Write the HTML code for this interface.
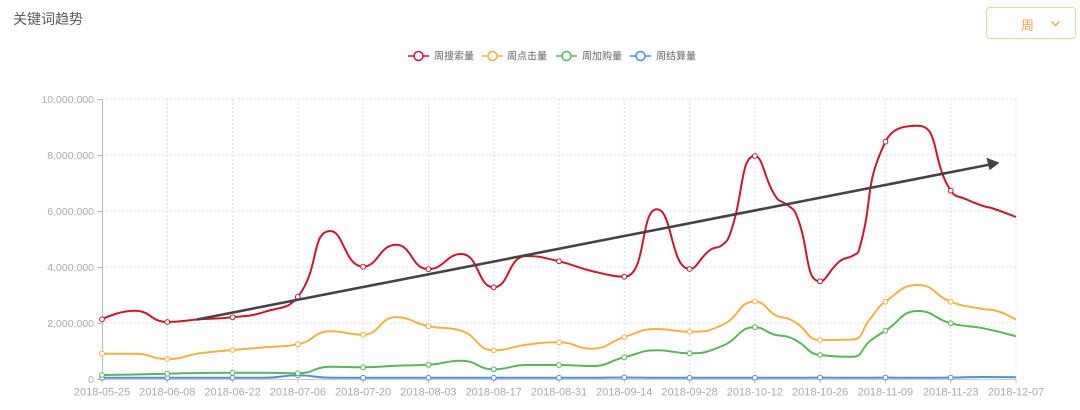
<!DOCTYPE html>
<html><head><meta charset="utf-8">
<style>
html,body{margin:0;padding:0;background:#fff;}
body{width:1080px;height:410px;position:relative;overflow:hidden;font-family:"Liberation Sans","Noto Sans CJK SC",sans-serif;}
.title{position:absolute;left:13px;top:9px;font-size:14px;color:#5a5a5a;}
.dd{position:absolute;left:986px;top:7px;width:90px;height:32px;border:1px solid #f5cf9c;border-radius:4px;box-sizing:border-box;}
.dd span{position:absolute;left:34px;top:7px;font-size:13px;color:#f0a24a;}
svg{position:absolute;left:0;top:0;}
</style></head><body>
<div class="title">关键词趋势</div>
<div class="dd"><span>周</span>
<svg width="90" height="32" style="left:0;top:0"><polyline points="64.5,13.5 68.5,17.5 72.5,13.5" fill="none" stroke="#f0a24a" stroke-width="1.3"/></svg>
</div>
<svg id="c" width="1080" height="410" xmlns="http://www.w3.org/2000/svg" style="left:0;top:0;position:absolute;">
<g id="grid"></g>
<g id="series"></g>
<g font-family="Liberation Sans, Noto Sans CJK SC, sans-serif" font-size="10" fill="#666">
 <line x1="408" y1="56" x2="429" y2="56" stroke="#d0152b" stroke-width="1.5"/><circle cx="418.5" cy="56" r="4.5" fill="#fff" stroke="#d0152b" stroke-width="1.5"/>
 <text x="434" y="59.5">周搜索量</text>
 <line x1="482" y1="56" x2="503" y2="56" stroke="#f2b23f" stroke-width="1.5"/><circle cx="492.5" cy="56" r="4.5" fill="#fff" stroke="#f2b23f" stroke-width="1.5"/>
 <text x="507" y="59.5">周点击量</text>
 <line x1="556" y1="56" x2="577" y2="56" stroke="#5bb55b" stroke-width="1.5"/><circle cx="566.5" cy="56" r="4.5" fill="#fff" stroke="#5bb55b" stroke-width="1.5"/>
 <text x="582" y="59.5">周加购量</text>
 <line x1="630" y1="56" x2="651" y2="56" stroke="#4a8fe0" stroke-width="1.5"/><circle cx="640.5" cy="56" r="4.5" fill="#fff" stroke="#4a8fe0" stroke-width="1.5"/>
 <text x="656" y="59.5">周结算量</text>
</g>
<g id="arrow">
 <line x1="197" y1="319.5" x2="990" y2="164.5" stroke="#444" stroke-width="2.6"/>
 <polygon points="999.5,162.7 986.5,157.8 989.5,170.2" fill="#444"/>
</g>
</svg>
<script>
(function(){
var NS="http://www.w3.org/2000/svg";
var grid=document.getElementById('grid'),ser=document.getElementById('series');
function el(t,a,p){var e=document.createElementNS(NS,t);for(var k in a)e.setAttribute(k,a[k]);(p||grid).appendChild(e);return e;}
var x0=102,x1=1016,y0=379,ytop=99,dx=(x1-x0)/28;
var ylabels=["0","2,000,000","4,000,000","6,000,000","8,000,000","10,000,000"];
for(var k=0;k<=5;k++){var y=y0-k*56;
 if(k>0)el('line',{x1:x0,y1:y,x2:x1,y2:y,stroke:'#e0e0e0','stroke-width':1,'stroke-dasharray':'2,2'});
 el('line',{x1:x0-5,y1:y+0.5,x2:x0,y2:y+0.5,stroke:'#bbb','stroke-width':1});
 var t=el('text',{x:x0-8,y:y+4,'text-anchor':'end','font-size':'10.5','fill':'#aaa','font-family':'Liberation Sans, sans-serif'});t.textContent=ylabels[k];}
var dates=["2018-05-25","2018-06-08","2018-06-22","2018-07-06","2018-07-20","2018-08-03","2018-08-17","2018-08-31","2018-09-14","2018-09-28","2018-10-12","2018-10-26","2018-11-09","2018-11-23","2018-12-07"];
for(var j=0;j<15;j++){var x=x0+j*2*dx;
 if(j>0)el('line',{x1:x,y1:ytop,x2:x,y2:y0,stroke:'#e0e0e0','stroke-width':1,'stroke-dasharray':'2,2'});
 el('line',{x1:x,y1:y0,x2:x,y2:y0+4,stroke:'#bbb','stroke-width':1});
 var t=el('text',{x:x,y:395.5,'text-anchor':'middle','font-size':'11','fill':'#aaa','font-family':'Liberation Sans, sans-serif'});t.textContent=dates[j];}
el('line',{x1:x0+0.5,y1:ytop,x2:x0+0.5,y2:y0,stroke:'#bbb','stroke-width':1});
el('line',{x1:x0,y1:y0+0.5,x2:x1,y2:y0+0.5,stroke:'#ccc','stroke-width':1});
var data={
 red:[319.3,310.7,322,319.3,317.3,311.7,296.7,231,266.7,244.7,269.2,254,287.3,256,261.3,271,276.7,209.3,269,245,156,205,281.3,255.7,141.7,125.7,190.7,206,217],
 yel:[353.7,353.7,359,353.3,350,347.3,344.3,331.3,334.7,317.3,326.2,330.7,350.3,344.7,342.3,348.7,337,329,331.7,325,301.5,318.3,340,339.5,301.7,285,301.7,309,319.7],
 grn:[375,374.5,373.7,373,372.7,372.7,373.3,366.7,367.3,365.7,364.8,360.7,369.3,365,365,366,357.3,350.3,353.3,346,327.2,336.7,355,356.7,330.7,311,323.3,328.3,336.3],
 blu:[377.8,377.8,377.8,377.8,377.8,377.8,375.3,377.8,377.8,377.8,377.8,377.8,377.8,377.8,377.8,377.8,377.5,377.8,377.8,377.8,377.8,377.8,377.6,377.8,377.6,377.8,377.6,377,377.2]
};
var extra={
 red:[[710,250],[730,234],[776,197],[796,214],[840,261],[859,250],[966.7,199.5],[993,208.5]],
 yel:[[777,316],[797,323.5],[870,319],[993,310]],
 grn:[[774,334.5],[797,341],[870,341]],
 blu:[]
};
var cols={red:'#d0152b',yel:'#f2b23f',grn:'#5bb55b',blu:'#4a8fe0'};
function smoothPath(P,smooth){
 var d='M'+P[0][0].toFixed(2)+','+P[0][1].toFixed(2);
 var cpx0=P[0][0],cpy0=P[0][1];
 for(var k=1;k<P.length;k++){
  var x=P[k][0],y=P[k][1],prevX=P[k-1][0],prevY=P[k-1][1];
  var cpx1,cpy1,nx0,ny0;
  if(k===P.length-1){cpx1=x;cpy1=y;nx0=x;ny0=y;}
  else{
   var nextX=P[k+1][0],nextY=P[k+1][1];
   var vx=nextX-prevX,vy=nextY-prevY;
   var dx0=x-prevX,dx1=nextX-x,dy0=y-prevY,dy1=nextY-y;
   var lp=Math.sqrt(dx0*dx0+dy0*dy0),ln=Math.sqrt(dx1*dx1+dy1*dy1);
   var r=ln/(ln+lp);
   nx0=x+vx*smooth*r; ny0=y+vy*smooth*r;
   nx0=Math.min(nx0,Math.max(nextX,x)); ny0=Math.min(ny0,Math.max(nextY,y));
   nx0=Math.max(nx0,Math.min(nextX,x)); ny0=Math.max(ny0,Math.min(nextY,y));
   vx=nx0-x; vy=ny0-y;
   cpx1=x-vx*lp/ln; cpy1=y-vy*lp/ln;
   cpx1=Math.min(cpx1,Math.max(prevX,x)); cpy1=Math.min(cpy1,Math.max(prevY,y));
   cpx1=Math.max(cpx1,Math.min(prevX,x)); cpy1=Math.max(cpy1,Math.min(prevY,y));
   vx=x-cpx1; vy=y-cpy1;
   nx0=x+vx*ln/lp; ny0=y+vy*ln/lp;
  }
  d+='C'+cpx0.toFixed(2)+','+cpy0.toFixed(2)+' '+cpx1.toFixed(2)+','+cpy1.toFixed(2)+' '+x.toFixed(2)+','+y.toFixed(2);
  cpx0=nx0;cpy0=ny0;
 }
 return d;
}
['blu','grn','yel','red'].forEach(function(k){
 var P=data[k].map(function(y,i){return [x0+i*dx,y];}).concat(extra[k]);
 P.sort(function(a,b){return a[0]-b[0];});
 el('path',{d:smoothPath(P,0.5),fill:'none',stroke:cols[k],'stroke-width':2,'stroke-linejoin':'round'},ser);
 for(var i=0;i<28;i+=2){
  el('circle',{cx:x0+i*dx,cy:data[k][i],r:2.4,fill:'#fff',stroke:cols[k],'stroke-width':1},ser);
 }
});
})();
</script>
</body></html>
